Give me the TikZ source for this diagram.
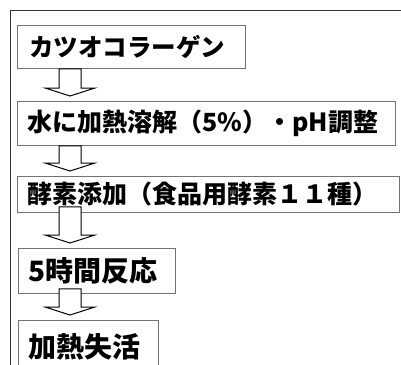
\documentclass[tikz,border=0pt]{standalone}
\usepackage{fontspec}
\newfontfamily\jp{Noto Sans CJK JP}
\usetikzlibrary{calc}
\tikzset{
  stepbox/.style={draw=black!55, line width=0.8pt, anchor=north west, inner xsep=0pt, inner ysep=0pt,
    font=\jp\bfseries, align=left},
  blockarrow/.style={draw=black, line width=1pt, fill=white, line join=miter},
  frameline/.style={draw=black!80, line width=1pt}
}
\newcommand{\blockarr}[3]{%
  \fill[white] let \p1=(#1.south), \p2=(#2.north) in (59pt,\y1+#3) rectangle (81pt,\y2+13pt);
  \draw[blockarrow] let \p1=(#1.south), \p2=(#2.north) in
    (59pt,\y1+#3) -- (81pt,\y1+#3) -- (81pt,\y2+13pt) -- (95pt,\y2+13pt) -- (70pt,\y2+5pt)
    -- (45pt,\y2+13pt) -- (59pt,\y2+13pt) -- cycle;}
\begin{document}
\begin{tikzpicture}[x=1pt,y=-1pt]
\useasboundingbox (0,0) rectangle (401,364);
\begin{scope}
\clip (0,0) rectangle (401,364);
\draw[frameline] (10,420) -- (10,10) -- (420,10);
\node[stepbox, minimum width=228pt, minimum height=43pt, text width=228pt, font=\jp\bfseries\fontsize{24.5}{26}\selectfont] (b1) at (17,25) {\hspace*{12pt}カツオコラーゲン};
\node[stepbox, minimum width=378pt, minimum height=44pt, text width=378pt, font=\jp\bfseries\fontsize{25}{27}\selectfont] (b2) at (17,101) {\hspace*{10pt}水に加熱溶解（5\%）・pH調整};
\node[stepbox, minimum width=382pt, minimum height=36pt, text width=382pt, font=\jp\bfseries\fontsize{25}{27}\selectfont] (b3) at (17,176) {\hspace*{10pt}酵素添加（食品用酵素１１種）};
\node[stepbox, minimum width=157pt, minimum height=45pt, text width=157pt, font=\jp\bfseries\fontsize{28}{30}\selectfont] (b4) at (18,248) {\hspace*{10pt}5時間反応};
\node[stepbox, minimum width=140pt, minimum height=52pt, text width=140pt, font=\jp\bfseries\fontsize{28}{30}\selectfont] (b5) at (18,320) {\hspace*{10pt}加熱失活};
\blockarr{b1}{b2}{0pt}
\blockarr{b2}{b3}{0pt}
\blockarr{b3}{b4}{6pt}
\blockarr{b4}{b5}{5pt}
\end{scope}
\end{tikzpicture}
\end{document}
